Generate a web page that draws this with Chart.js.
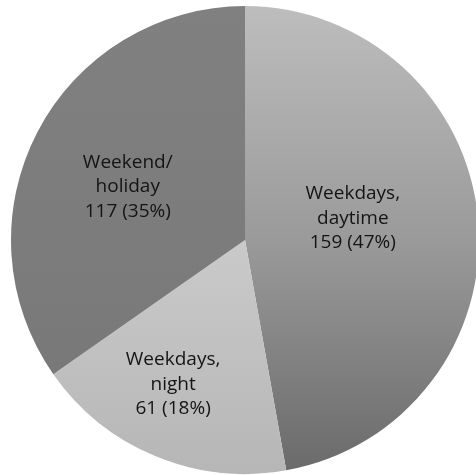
<!DOCTYPE html>
<html>
<head>
<meta charset="utf-8">
<script src="https://cdn.jsdelivr.net/npm/chart.js@4/dist/chart.umd.min.js"></script>
<style>
  html, body { margin: 0; padding: 0; background: #ffffff; overflow: hidden; width: 476px; height: 475px; }
  #wrap { position: absolute; left: 0; top: 0; width: 490px; height: 480px; }
</style>
</head>
<body>
<div id="wrap"><canvas id="chart" width="490" height="480"></canvas></div>
<script>
// Accident counts by time of occurrence
const categories = [["Weekdays,", "daytime"], ["Weekdays,", "night"], ["Weekend/", "holiday"]];
const counts = [159, 61, 117];
const percents = [47, 18, 35];

// gray shading per slice: [top stop, middle stop, bottom stop]
const shades = [
  ["#bdbdbd", "#9a9a9a", "#6a6a6a"],
  ["#d2d2d2", "#cacaca", "#b6b6b6"],
  ["#808080", "#7c7c7c", "#767676"]
];
// label placement: fraction of radius along the slice bisector, plus an angular nudge (radians)
const labelPlace = [
  { r: 0.47, da: -0.11 },
  { r: 0.69, da: 0.07 },
  { r: 0.55, da: -0.055 }
];

function sliceFill(ctx) {
  const chart = ctx.chart;
  const area = chart.chartArea;
  if (!area) return shades[ctx.dataIndex][1];
  const s = shades[ctx.dataIndex];
  const g = chart.ctx.createLinearGradient(0, area.top, 0, area.bottom);
  g.addColorStop(0, s[0]);
  g.addColorStop(0.5, s[1]);
  g.addColorStop(1, s[2]);
  return g;
}

const sliceLabels = {
  id: "sliceLabels",
  afterDatasetsDraw(chart) {
    const c = chart.ctx;
    const meta = chart.getDatasetMeta(0);
    c.save();
    c.font = "19px 'Open Sans', Lato, sans-serif";
    c.fillStyle = "#141414";
    c.textAlign = "center";
    c.textBaseline = "middle";
    meta.data.forEach((arc, i) => {
      const p = arc.getProps(["x", "y", "startAngle", "endAngle", "outerRadius"], true);
      const mid = (p.startAngle + p.endAngle) / 2 + labelPlace[i].da;
      const rr = p.outerRadius * labelPlace[i].r;
      const cx = p.x + Math.cos(mid) * rr;
      const cy = p.y + Math.sin(mid) * rr;
      const lines = categories[i].concat([counts[i] + " (" + percents[i] + "%)"]);
      const lh = 24.5;
      lines.forEach((t, k) => {
        c.fillText(t, cx, cy + (k - (lines.length - 1) / 2) * lh);
      });
    });
    c.restore();
  }
};

new Chart(document.getElementById("chart"), {
  type: "pie",
  data: {
    labels: categories.map(l => l.join(" ")),
    datasets: [{
      data: counts,
      backgroundColor: sliceFill,
      borderWidth: 0,
      hoverOffset: 0
    }]
  },
  options: {
    responsive: false,
    animation: false,
    layout: { padding: 6 },
    plugins: {
      legend: { display: false },
      tooltip: { enabled: false }
    }
  },
  plugins: [sliceLabels]
});
</script>
</body>
</html>
